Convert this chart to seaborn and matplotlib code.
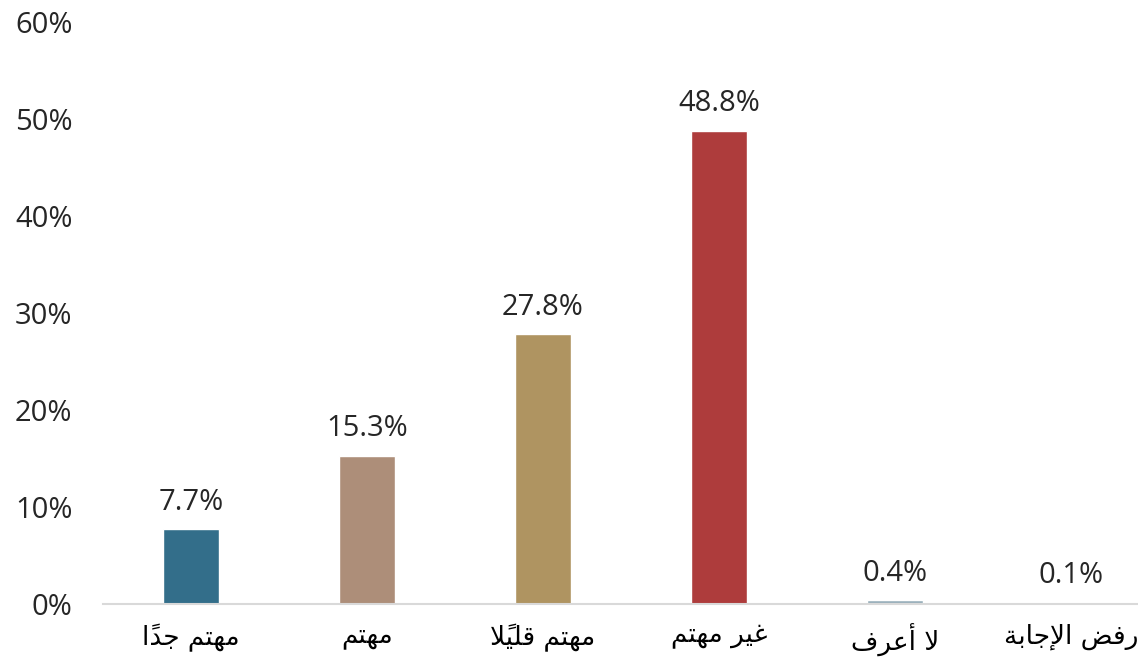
import matplotlib
matplotlib.use("Agg")
import matplotlib.pyplot as plt
import seaborn as sns
import pandas as pd
from matplotlib.ticker import PercentFormatter

categorias = ["مهتم جداً", "مهتم", "مهتم قليلاً", "غير مهتم", "لا أعرف", "رفض الإجابة"]
valores = [7.7, 15.3, 27.8, 48.8, 0.4, 0.1]
colores = ["#336E8A", "#AD8E79", "#AF9461", "#AE3C3C", "#9AB0BB", "#DCC3C7"]
y_ticks = [0, 10, 20, 30, 40, 50, 60]

# matplotlib no hace shaping del árabe: se pasa a formas de presentación a mano
# (aislada, final, inicial, medial); las de dos formas solo se unen a la anterior
FORMAS = {
    "ا": "\uFE8D\uFE8E", "أ": "\uFE83\uFE84", "إ": "\uFE87\uFE88",
    "د": "\uFEA9\uFEAA", "ر": "\uFEAD\uFEAE", "ة": "\uFE93\uFE94",
    "ب": "\uFE8F\uFE90\uFE91\uFE92", "ت": "\uFE95\uFE96\uFE97\uFE98",
    "ج": "\uFE9D\uFE9E\uFE9F\uFEA0", "ض": "\uFEBD\uFEBE\uFEBF\uFEC0",
    "ع": "\uFEC9\uFECA\uFECB\uFECC", "غ": "\uFECD\uFECE\uFECF\uFED0",
    "ف": "\uFED1\uFED2\uFED3\uFED4", "ق": "\uFED5\uFED6\uFED7\uFED8",
    "ل": "\uFEDD\uFEDE\uFEDF\uFEE0", "م": "\uFEE1\uFEE2\uFEE3\uFEE4",
    "ه": "\uFEE9\uFEEA\uFEEB\uFEEC", "ي": "\uFEF1\uFEF2\uFEF3\uFEF4",
}
LAM_ALEF = {"ا": "\uFEFB\uFEFC", "أ": "\uFEF7\uFEF8", "إ": "\uFEF9\uFEFA"}
MARCAS = "\u064B"


def dar_forma(texto):
    # juntar lam + alef en ligadura
    letras = []
    i = 0
    while i < len(texto):
        c = texto[i]
        if c == "ل" and i + 1 < len(texto) and texto[i + 1] in LAM_ALEF:
            letras.append(("LA", texto[i + 1]))
            i += 2
        else:
            letras.append((c, None))
            i += 1

    def une_sig(tok):
        c, a = tok
        return c in FORMAS and len(FORMAS[c]) == 4

    def es_letra(tok):
        return tok[0] == "LA" or tok[0] in FORMAS

    salida = []
    for k, tok in enumerate(letras):
        c, a = tok
        if not es_letra(tok):
            salida.append([c])
            continue
        # buscar vecinos saltando marcas
        j = k - 1
        while j >= 0 and letras[j][0] in MARCAS:
            j -= 1
        prev = letras[j] if j >= 0 else None
        j = k + 1
        while j < len(letras) and letras[j][0] in MARCAS:
            j += 1
        sig = letras[j] if j < len(letras) else None
        con_prev = prev is not None and une_sig(prev)
        if c == "LA":
            salida.append([LAM_ALEF[a][1 if con_prev else 0]])
            continue
        f = FORMAS[c]
        con_sig = len(f) == 4 and sig is not None and es_letra(sig)
        if con_prev and con_sig:
            g = f[3]
        elif con_sig:
            g = f[2]
        elif con_prev:
            g = f[1]
        else:
            g = f[0]
        salida.append([g])
    # las marcas van con su letra base
    grupos = []
    for s in salida:
        if s[0] in MARCAS and grupos:
            grupos[-1].append(s[0])
        else:
            grupos.append(s)
    return "".join("".join(g) for g in reversed(grupos))


sns.set_style("white")
plt.rcParams["font.family"] = ["Open Sans", "DejaVu Sans"]

df = pd.DataFrame({"categoria": categorias, "valor": valores})

fig = plt.figure(figsize=(11.38, 6.61), dpi=100)
ax = fig.add_axes([103 / 1138, 57 / 661, 1 - 103 / 1138, 582 / 661])

sns.barplot(data=df, x="categoria", y="valor", hue="categoria", palette=colores,
            width=0.32, legend=False, ax=ax, saturation=1)

for p, v in zip(ax.patches, valores):
    ax.text(p.get_x() + p.get_width() / 2, v + 1.3, f"{v:.1f}%",
            ha="center", va="bottom", fontsize=21, color="#262626")

ax.set_ylim(0, 60)
ax.set_xlim(-0.5, 5.38)
ax.set_yticks(y_ticks)
ax.yaxis.set_major_formatter(PercentFormatter(decimals=0))
ax.tick_params(axis="y", labelsize=21, labelcolor="#262626", length=0, pad=22)
ax.set_xticks(range(len(categorias)))
ax.set_xticklabels([dar_forma(c) for c in categorias], fontfamily="DejaVu Sans",
                   fontsize=19, color="#000000")
ax.tick_params(axis="x", length=0, pad=14)
ax.set_xlabel("")
ax.set_ylabel("")
for s in ["top", "right", "left"]:
    ax.spines[s].set_visible(False)
ax.spines["bottom"].set_color("#D9D9D9")
ax.spines["bottom"].set_linewidth(1.5)

fig.savefig("out.png", dpi=100)
